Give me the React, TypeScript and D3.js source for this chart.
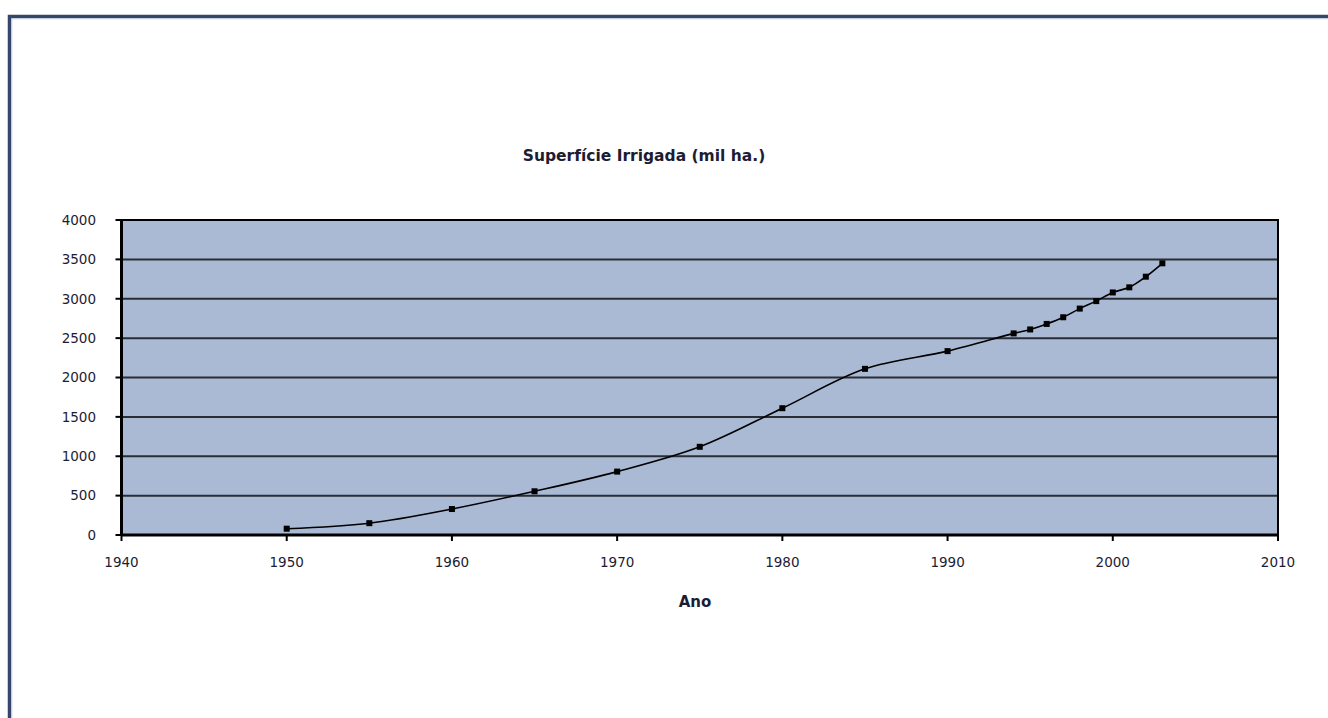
import React from "react";
import * as d3 from "d3";

const years = [1950, 1955, 1960, 1965, 1970, 1975, 1980, 1985, 1990, 1994, 1995, 1996, 1997, 1998, 1999, 2000, 2001, 2002, 2003];
const values = [80, 150, 330, 555, 805, 1120, 1610, 2110, 2335, 2560, 2610, 2680, 2765, 2875, 2970, 3080, 3145, 3280, 3450];
const xTicks = [1940, 1950, 1960, 1970, 1980, 1990, 2000, 2010];
const yTicks = [0, 500, 1000, 1500, 2000, 2500, 3000, 3500, 4000];
const title = "Superfície Irrigada (mil ha.)";
const xTitle = "Ano";

export default function App() {
  const W = 1328, H = 718;
  const left = 121.5, right = 1278, top = 220, bottom = 535;
  const x = d3.scaleLinear().domain([1940, 2010]).range([left, right]);
  const y = d3.scaleLinear().domain([0, 4000]).range([bottom, top]);
  const pts: [number, number][] = years.map((yr, i) => [x(yr), y(values[i])]);
  const line = d3.line().curve(d3.curveCatmullRom.alpha(0.5))(pts) || "";
  const font = "'DejaVu Sans', Verdana, sans-serif";
  const txt = "#1c1c33";
  return (
    <svg width={W} height={H} style={{ position: "fixed", left: 0, top: 0, background: "#fff" }} fontFamily={font}>
      <rect x={0} y={0} width={W} height={H} fill="#fff" />
      {/* outer frame */}
      <path d={`M9.5,${H + 5} L9.5,16.5 L${W + 5},16.5`} fill="none" stroke="#34466a" strokeWidth={3.5} />
      <path d={`M11.8,${H + 5} L11.8,18.8 L${W + 5},18.8`} fill="none" stroke="#c6cedd" strokeWidth={1} />
      {/* plot background */}
      <rect x={left} y={top} width={right - left} height={bottom - top} fill="#aabad4" />
      {/* gridlines */}
      {yTicks.filter(t => t > 0 && t < 4000).map(t => (
        <line key={t} x1={left} x2={right} y1={y(t)} y2={y(t)} stroke="#2a2d33" strokeWidth={2} />
      ))}
      {/* plot border */}
      <rect x={left} y={top} width={right - left} height={bottom - top} fill="none" stroke="#000" strokeWidth={2} />
      <line x1={left} x2={left} y1={top} y2={bottom} stroke="#000" strokeWidth={3} />
      <line x1={left} x2={right} y1={bottom} y2={bottom} stroke="#000" strokeWidth={3} />
      {/* y ticks */}
      {yTicks.map(t => (
        <g key={t}>
          <line x1={left - 6} x2={left} y1={y(t)} y2={y(t)} stroke="#000" strokeWidth={2} />
          <text x={96} y={y(t)} dy="0.36em" textAnchor="end" fontSize={13.5} fill={txt}>{t}</text>
        </g>
      ))}
      {/* x ticks */}
      {xTicks.map(t => (
        <g key={t}>
          <line x1={x(t)} x2={x(t)} y1={bottom} y2={bottom + 6} stroke="#000" strokeWidth={2} />
          <text x={x(t)} y={567} textAnchor="middle" fontSize={13.5} fill={txt}>{t}</text>
        </g>
      ))}
      {/* line */}
      <path d={line} fill="none" stroke="#000" strokeWidth={1.6} />
      {pts.map(([px, py], i) => (
        <rect key={i} x={px - 3} y={py - 3} width={6} height={6} fill="#000" />
      ))}
      <text x={644} y={161} textAnchor="middle" fontSize={15.5} fontWeight="bold" fill={txt}>{title}</text>
      <text x={695} y={607} textAnchor="middle" fontSize={15} fontWeight="bold" fill={txt}>{xTitle}</text>
    </svg>
  );
}
